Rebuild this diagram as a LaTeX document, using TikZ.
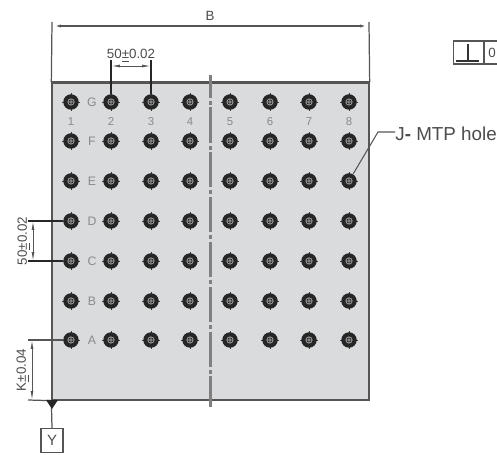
\documentclass[tikz,border=0pt]{standalone}
\usepackage{fontspec}
\setmainfont{Liberation Sans}
\usetikzlibrary{arrows.meta}
\definecolor{plategray}{HTML}{D9DBDC}
\definecolor{linegray}{HTML}{555555}
\definecolor{labelgray}{HTML}{8A8A8A}
\begin{document}
\begin{tikzpicture}[x=0.02cm, y=-0.02cm, line width=.5pt,
  hole node/.style={circle,fill=black!85,minimum size=.31cm,inner sep=0pt,
    path picture={\draw[gray!60,line width=.3pt] (path picture bounding box.center) circle (.065cm)
      ++(-.065cm,0) -- ++(.13cm,0) ++(-.065cm,-.065cm) -- ++(0,.13cm);}},
  hole tick/.style={black!75,line width=.5pt},
  row label/.style={font=\fontsize{6.5}{7}\selectfont,text=labelgray,inner sep=0pt},
  dim text/.style={font=\fontsize{7.6}{8}\selectfont,text=black!70,inner sep=0pt},
  dim line/.style={linegray,line width=.5pt,{Latex[length=5pt,width=1.6pt]}-{Latex[length=5pt,width=1.6pt]}},
  ext line/.style={linegray,line width=.7pt}]
\useasboundingbox (0,0) rectangle (497,455);
% plate
\node[draw=linegray,fill=plategray,line width=.8pt,minimum width=6.34cm,minimum height=6.34cm,inner sep=0pt] (plate) at (210.5,241.5) {};
\draw[linegray,line width=1pt] (plate.north west) -- (plate.north east);
% holes
\foreach \c/\x in {1/71,2/111,3/151,4/190,5/230,6/270,7/309,8/349}{
  \foreach \r/\y in {G/102,F/141,E/181,D/221,C/261,B/301,A/340}{
    \draw[hole tick] (\x-9,\y) -- (\x+9,\y) (\x,\y-9) -- (\x,\y+9);
    \node[hole node] (h\c\r) at (\x,\y) {};
  }
  \node[row label] (n\c) at (\x,122) {\c};
}
\foreach \r/\y in {G/102,F/141,E/181,D/221,C/261,B/301,A/340}{
  \node[row label,font=\fontsize{7}{8}\selectfont] (l\r) at (92,\y) {\r};
}
% center line
\coordinate (ctop) at (210.5,75);
\coordinate (cbot) at (210.5,407);
\draw[gray,line width=1.4pt,dash pattern=on 20pt off 1.7pt on 2.3pt off 1.5pt,dash phase=7pt] (ctop) -- (cbot);
% dimension B
\coordinate (b1) at (52,22);
\coordinate (b2) at (369,22);
\coordinate (b3) at (52,26);
\coordinate (b4) at (369,26);
\draw[ext line] (b1) -- (plate.north west);
\draw[ext line] (b2) -- (plate.north east);
\draw[dim line,line width=.8pt] (b3) -- (b4);
\node[dim text] (bt) at (210,16) {B};
% pitch top
\coordinate (t2) at (111,60);
\coordinate (t3) at (151,60);
\coordinate (d2) at (111,66);
\coordinate (d3) at (151,66);
\draw[black!85,line width=.6pt] (h2G) -- (t2);
\draw[black!85,line width=.6pt] (h3G) -- (t3);
\draw[dim line] (d2) -- (d3);
\node[dim text] (pt) at (131,56) {50\underline{±}0.02};
% pitch left
\coordinate (e1) at (28,221);
\coordinate (e2) at (28,261);
\coordinate (e3) at (33,221);
\coordinate (e4) at (33,261);
\draw[black!85,line width=.6pt] (e1) -- (h1D);
\draw[black!85,line width=.6pt] (e2) -- (h1C);
\draw[dim line] (e3) -- (e4);
\node[dim text,rotate=90] (pl) at (24,241) {50\underline{±}0.02};
% dimension K
\coordinate (k1) at (28,340);
\coordinate (k2) at (28,400);
\coordinate (k3) at (32,340);
\coordinate (k4) at (32,400);
\draw[ext line] (k1) -- (h1A);
\draw[ext line] (k2) -- (plate.south west);
\draw[dim line] (k3) -- (k4);
\node[dim text,rotate=90] (kt) at (23,370) {K\underline{±}0.04};
% datum Y
\node[draw=linegray,line width=.8pt,minimum width=.44cm,minimum height=.48cm,inner sep=0pt,font=\fontsize{8.5}{9}\selectfont,text=black!70] (y) at (52,440.5) {Y};
\draw[ext line] (plate.south west) -- (y.north);
\fill[black!85] (46,400) -- (58,400) -- (52,409) -- cycle;
% leader
\node[font=\fontsize{10.7}{12}\selectfont,text=black!70,inner sep=0pt,anchor=west] (mtp) at (395,134) {J\textbf{-} MTP hole};
\coordinate (m1) at (378,132);
\draw[linegray,line width=.6pt] (h8E) -- (m1) -- (mtp.west |- m1);
% tolerance frame
\node[draw=linegray,line width=.8pt,minimum width=1.02cm,minimum height=.46cm,inner sep=0pt,anchor=west] (f1) at (453,52.5) {};
\draw[linegray,line width=.6pt] (484,41) -- (484,64);
\draw[black!80,line width=.7pt] (456,61) -- (479,61) (468,44) -- (468,61);
\node[dim text] (f0) at (492,52.5) {0};
\end{tikzpicture}
\end{document}
